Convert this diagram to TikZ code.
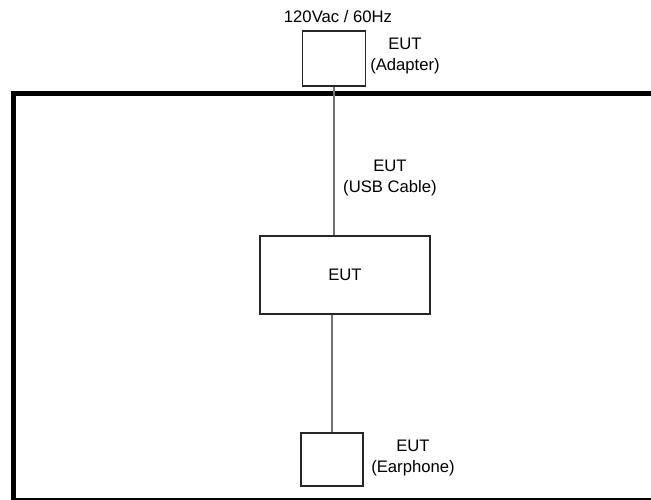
\documentclass[tikz,border=0pt]{standalone}
\usepackage{fontspec}
\setmainfont{Liberation Sans}
\usepackage{xcolor}
\usetikzlibrary{
    positioning
}

\begin{document}
\begin{tikzpicture}[
    x=0.75pt,
    y=-0.75pt,
    font=\fontsize{12.5}{15.75}\selectfont,
    unitbox/.style={
        rectangle,
        draw=black!85,
        line width=1.1pt,
        inner sep=0pt,
        fill=white
    },
    cable/.style={
        draw=black!55,
        line width=1.5pt
    },
    frame/.style={
        draw=black,
        line width=3.75pt
    },
    note/.style={
        align=center,
        inner sep=0pt,
        text=black
    }
]

\useasboundingbox (0,0) rectangle (651,500);
\clip (0,0) rectangle (651,500);

% =========================================================
% Test table frame
% =========================================================
\draw[frame] (13.5,93.5) rectangle (665,500.5);

% =========================================================
% Units
% =========================================================
\node[unitbox, minimum width=47.25pt, minimum height=41.25pt] (adapter) at (334,58.5) {};

\node[unitbox, minimum width=127.5pt, minimum height=58.5pt] (eut) at (345,275) {EUT};

\node[unitbox, minimum width=46.5pt, minimum height=39.75pt] (earphone) at (332,459.5) {};

% =========================================================
% Labels
% =========================================================
\node[note] (mains) at (338,17) {120Vac / 60Hz};

\node[note] (adapterlbl) at (405,56) {EUT\\(Adapter)};

\node[note] (usblbl) at (390,178) {EUT\\(USB Cable)};

\node[note] (earphonelbl) at (413,458) {EUT\\(Earphone)};

% =========================================================
% Cables
% =========================================================
\draw[cable] (adapter.south) -- (adapter.south |- eut.north);
\draw[cable] (eut.south -| earphone.north) -- (earphone.north);

\end{tikzpicture}
\end{document}
